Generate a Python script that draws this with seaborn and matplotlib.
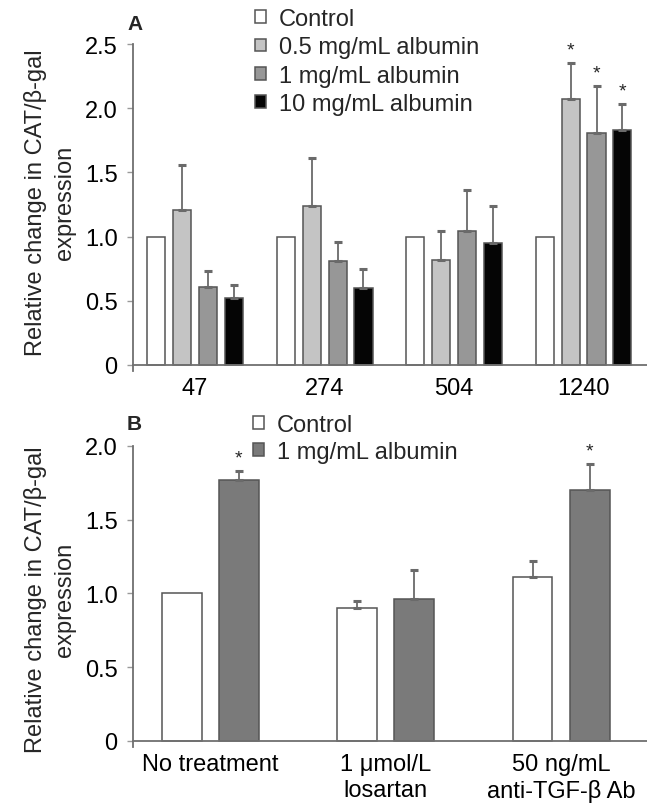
import numpy as np
import pandas as pd
import matplotlib
matplotlib.use("Agg")
import matplotlib.pyplot as plt
import seaborn as sns

# ---------------- data ----------------
groups_A = ["47", "274", "504", "1240"]
treat_A = ["Control", "0.5 mg/mL albumin", "1 mg/mL albumin", "10 mg/mL albumin"]
control_A = [1.0, 1.0, 1.0, 1.0]
alb05_A = [1.21, 1.24, 0.82, 2.07]
alb1_A = [0.61, 0.81, 1.04, 1.81]
alb10_A = [0.52, 0.60, 0.95, 1.83]
control_err_A = [0.0, 0.0, 0.0, 0.0]
alb05_err_A = [0.35, 0.37, 0.225, 0.28]
alb1_err_A = [0.12, 0.15, 0.32, 0.36]
alb10_err_A = [0.10, 0.15, 0.29, 0.20]
sig_A = [(3, 1), (3, 2), (3, 3)]  # (group index, treatment index)

groups_B = ["No treatment", "1 \u03bcmol/L\nlosartan", "50 ng/mL\nanti-TGF-\u03b2 Ab"]
treat_B = ["Control", "1 mg/mL albumin"]
control_B = [1.0, 0.90, 1.11]
alb_B = [1.77, 0.96, 1.705]
control_err_B = [0.0, 0.05, 0.11]
alb_err_B = [0.06, 0.20, 0.175]
sig_B = [(0, 1), (2, 1)]

yticks_A = [0, 0.5, 1.0, 1.5, 2.0, 2.5]
ytick_labels_A = ["0", "0.5", "1.0", "1.5", "2.0", "2.5"]
yticks_B = [0, 0.5, 1.0, 1.5, 2.0]
ytick_labels_B = ["0", "0.5", "1.0", "1.5", "2.0"]
ylabel = "Relative change in CAT/\u03b2-gal\nexpression"

# ---------------- style ----------------
colors_A = ["#ffffff", "#c4c4c4", "#979797", "#050505"]
colors_B = ["#ffffff", "#7a7a7a"]
edge = "#555555"
err_color = "#6a6a6a"
spine_color = "#707070"

sns.set_style("ticks")
plt.rcParams["font.family"] = ["Liberation Sans", "DejaVu Sans"]

W, H = 647, 804
fig = plt.figure(figsize=(W / 100, H / 100), dpi=100)
axA = fig.add_axes([133 / W, 1 - 372 / H, 514 / W, (372 - 45) / H])
axB = fig.add_axes([133 / W, 1 - 748 / H, 514 / W, (748 - 447) / H])


def long_df(groups, treats, values):
    rows = []
    for t, vals in zip(treats, values):
        for g, v in zip(groups, vals):
            rows.append({"group": g, "treatment": t, "value": v})
    return pd.DataFrame(rows)


def draw_panel(ax, groups, treats, values, errs, colors, width, gap, sig):
    df = long_df(groups, treats, values)
    sns.barplot(data=df, x="group", y="value", hue="treatment", order=groups,
                hue_order=treats, palette=colors, saturation=1, width=width,
                gap=gap, edgecolor=edge, linewidth=1.1, errorbar=None,
                legend=False, ax=ax)
    bar_containers = list(ax.containers)
    handles = []
    for hi, cont in enumerate(bar_containers):
        bars = sorted(cont.patches, key=lambda b: b.get_x())
        handles.append(bars[0])
        for gi, bar in enumerate(bars):
            x = bar.get_x() + bar.get_width() / 2
            h = bar.get_height()
            e = errs[hi][gi]
            if e > 0:
                ax.errorbar(x, h, yerr=[[0], [e]], fmt="none", ecolor=err_color,
                            elinewidth=1.3, capsize=3.2, capthick=2.2, zorder=1)
            if (gi, hi) in sig:
                ax.annotate("*", xy=(x, h + e), xytext=(0, 9.5),
                            textcoords="offset points", ha="center", va="center",
                            fontsize=14, annotation_clip=False)
    return handles


handlesA = draw_panel(axA, groups_A, treat_A,
                      [control_A, alb05_A, alb1_A, alb10_A],
                      [control_err_A, alb05_err_A, alb1_err_A, alb10_err_A],
                      colors_A, 0.8, 0.3, sig_A)
handlesB = draw_panel(axB, groups_B, treat_B, [control_B, alb_B],
                      [control_err_B, alb_err_B], colors_B, 0.65, 0.3, sig_B)

for ax, xl, yl, yt, ytl, ly in [
    (axA, (-0.48, 3.49), (-0.047, 2.5), yticks_A, ytick_labels_A, 0.517),
    (axB, (-0.44, 2.49), (-0.041, 2.0), yticks_B, ytick_labels_B, 0.493),
]:
    ax.set_xlim(*xl)
    ax.set_ylim(*yl)
    ax.spines[["top", "right"]].set_visible(False)
    ax.spines["bottom"].set_position(("data", 0))
    for s in ("left", "bottom"):
        ax.spines[s].set_color(spine_color)
        ax.spines[s].set_linewidth(1.3)
    ax.set_yticks(yt)
    ax.set_yticklabels(ytl)
    ax.tick_params(axis="y", length=4, width=1.0, color="#999999", pad=7,
                   labelsize=17, labelcolor="black")
    ax.tick_params(axis="x", length=0, pad=9, labelsize=17, labelcolor="black")
    ax.set_xlabel("")
    ax.set_ylabel(ylabel, fontsize=17, linespacing=1.45)
    ax.yaxis.set_label_coords(-0.11, ly)

for lab in axB.get_xticklabels():
    lab.set_linespacing(1.2)

axA.legend(handlesA, treat_A, loc="upper left", bbox_to_anchor=(255 / W, 1 - 9 / H),
           bbox_transform=fig.transFigure, frameon=False, fontsize=17,
           handlelength=0.45, handleheight=0.45, handletextpad=0.55,
           labelspacing=0.27, borderpad=0, borderaxespad=0)
axB.legend(handlesB, treat_B, loc="upper left", bbox_to_anchor=(253 / W, 1 - 415 / H),
           bbox_transform=fig.transFigure, frameon=False, fontsize=17,
           handlelength=0.45, handleheight=0.45, handletextpad=0.55,
           labelspacing=0.22, borderpad=0, borderaxespad=0)

fig.text(127 / W, 1 - 30 / H, "A", fontsize=15, fontweight="bold", va="baseline")
fig.text(127 / W, 1 - 430 / H, "B", fontsize=15, fontweight="bold", va="baseline")

fig.savefig("out.png", dpi=100)
